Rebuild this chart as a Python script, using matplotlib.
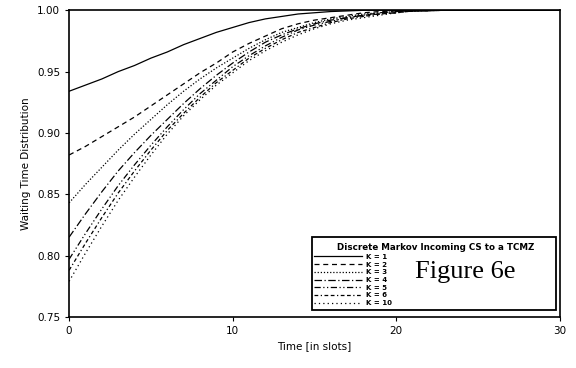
import matplotlib
matplotlib.use("Agg")
import matplotlib.pyplot as plt
from matplotlib.patches import Rectangle

time_slots = list(range(0, 31))
tail = [0.9995, 0.9998, 1.0, 1.0, 1.0, 1.0, 1.0, 1.0, 1.0, 1.0]

k1 = [0.934, 0.939, 0.944, 0.950, 0.955, 0.961, 0.966, 0.972, 0.977, 0.982, 0.986,
      0.990, 0.993, 0.995, 0.997, 0.998, 0.999, 0.9995, 1.0, 1.0, 1.0] + tail
k2 = [0.882, 0.889, 0.897, 0.905, 0.913, 0.922, 0.931, 0.940, 0.949, 0.957, 0.966,
      0.973, 0.979, 0.985, 0.989, 0.992, 0.994, 0.996, 0.998, 0.999, 0.9995] + tail
k3 = [0.843, 0.858, 0.872, 0.886, 0.899, 0.911, 0.923, 0.934, 0.944, 0.953, 0.961,
      0.969, 0.976, 0.982, 0.986, 0.990, 0.993, 0.995, 0.997, 0.998, 0.999] + tail
k4 = [0.815, 0.834, 0.852, 0.869, 0.884, 0.898, 0.911, 0.924, 0.936, 0.947, 0.957,
      0.966, 0.974, 0.980, 0.985, 0.989, 0.992, 0.994, 0.996, 0.998, 0.999] + tail
k5 = [0.797, 0.818, 0.838, 0.857, 0.874, 0.890, 0.905, 0.919, 0.932, 0.943, 0.954,
      0.963, 0.971, 0.978, 0.984, 0.988, 0.991, 0.994, 0.996, 0.997, 0.998] + tail
k6 = [0.788, 0.810, 0.831, 0.851, 0.869, 0.886, 0.902, 0.916, 0.929, 0.941, 0.951,
      0.961, 0.969, 0.976, 0.982, 0.986, 0.990, 0.993, 0.995, 0.997, 0.998] + tail
k10 = [0.779, 0.802, 0.824, 0.845, 0.864, 0.882, 0.899, 0.914, 0.927, 0.939, 0.949,
       0.959, 0.967, 0.974, 0.980, 0.985, 0.989, 0.992, 0.994, 0.996, 0.998] + tail

series = [k1, k2, k3, k4, k5, k6, k10]
labels = ["K = 1", "K = 2", "K = 3", "K = 4", "K = 5", "K = 6", "K = 10"]
styles = ["-", (0, (4, 3)), (0, (1, 1.5)), (0, (6, 2, 1, 2)),
          (0, (5, 2, 1, 2, 1, 2)), (0, (3, 2, 1, 2, 3, 2)), (0, (1, 2.5))]

fig = plt.figure(figsize=(5.76, 3.68), dpi=100)
ax = fig.add_axes([0.12, 0.139, 0.852, 0.833])

handles = []
for y, lab, ls in zip(series, labels, styles):
    h, = ax.plot(time_slots, y, color="black", lw=0.9, linestyle=ls, label=lab)
    handles.append(h)

ax.set_xlim(0, 30)
ax.set_ylim(0.75, 1.00)
ax.set_xticks([0, 10, 20, 30])
ax.set_yticks([0.75, 0.80, 0.85, 0.90, 0.95, 1.00])
ax.set_yticklabels(["0.75", "0.80", "0.85", "0.90", "0.95", "1.00"])
ax.tick_params(labelsize=7.5, length=3, width=0.8, direction="out")
for s in ax.spines.values():
    s.set_linewidth(1.2)
ax.set_xlabel("Time [in slots]", fontsize=7.5)
ax.set_ylabel("Waiting Time Distribution", fontsize=7.5)

# legend box
ax.add_patch(Rectangle((0.495, 0.023), 0.497, 0.237, transform=ax.transAxes,
                       facecolor="white", edgecolor="black", lw=1.3, zorder=5))
ax.text(0.747, 0.225, "Discrete Markov Incoming CS to a TCMZ", transform=ax.transAxes,
        fontsize=6.3, fontweight="bold", ha="center", va="center", zorder=6)
leg = ax.legend(handles=handles, loc="upper left", bbox_to_anchor=(0.497, 0.208),
                frameon=False, handlelength=7.0, handletextpad=0.6,
                labelspacing=0.25, borderpad=0.1, borderaxespad=0.0,
                prop={"weight": "bold", "size": 5})
leg.set_zorder(7)
ax.text(0.808, 0.147, "Figure 6e", transform=ax.transAxes, fontsize=19,
        family="Liberation Serif", ha="center", va="center", zorder=6)

fig.savefig("out.png", dpi=100)
